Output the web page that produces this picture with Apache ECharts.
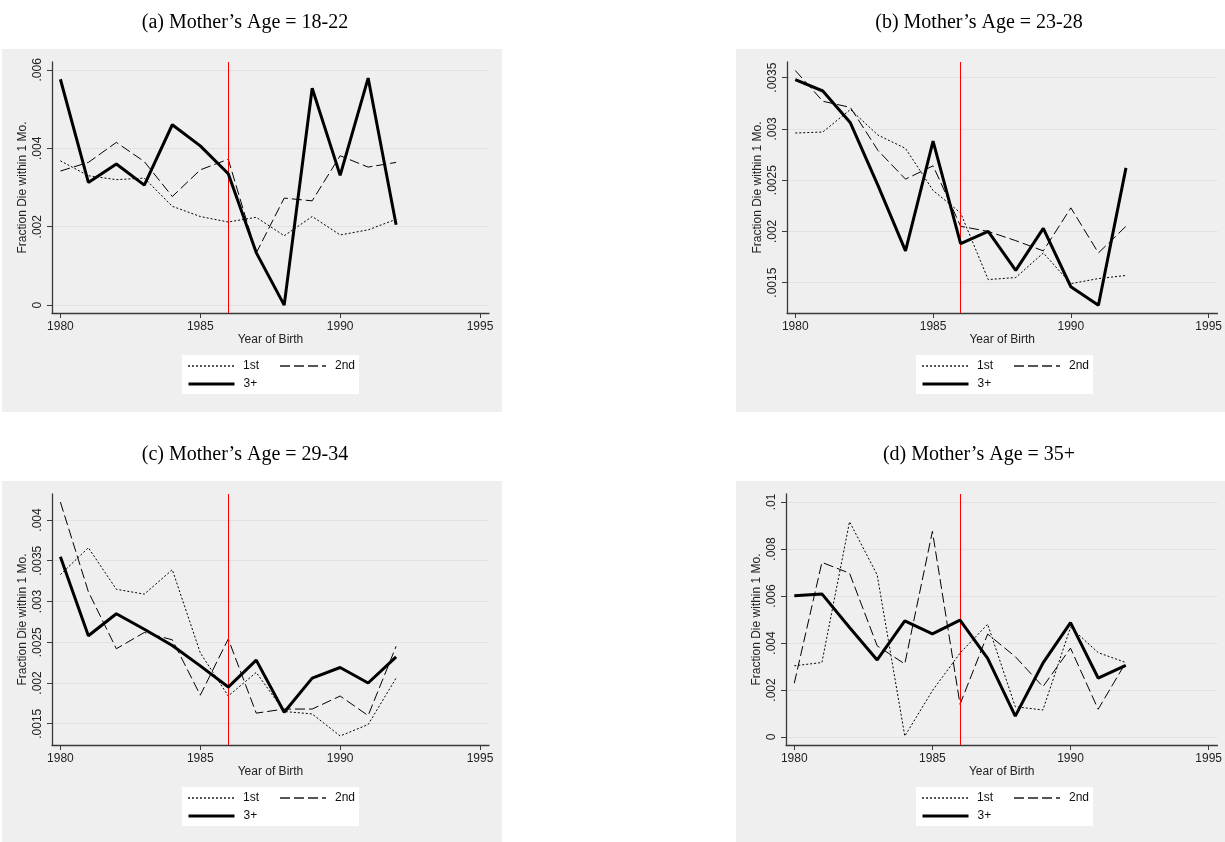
<!DOCTYPE html>
<html>
<head>
<meta charset="utf-8">
<script src="https://cdn.jsdelivr.net/npm/echarts@6/dist/echarts.min.js"></script>
<style>html,body{margin:0;padding:0;background:#fff;}#c{width:1225px;height:842px;}</style>
</head>
<body>
<div id="c"></div>
<script>
// ---- data ----
const years = [1980,1981,1982,1983,1984,1985,1986,1987,1988,1989,1990,1991,1992];
const xTicks = [1980,1985,1990,1995];
const seriesNames = ['1st','2nd','3+'];
const reformYear = 1986;

const titles = ["(a) Mother\u2019s Age = 18-22","(b) Mother\u2019s Age = 23-28","(c) Mother\u2019s Age = 29-34","(d) Mother\u2019s Age = 35+"];

const a_first  = [0.00368,0.00330,0.00320,0.00324,0.00252,0.00226,0.00212,0.00224,0.00177,0.00226,0.00179,0.00192,0.00219];
const a_second = [0.00342,0.00364,0.00415,0.00366,0.00277,0.00345,0.00372,0.00133,0.00273,0.00266,0.00381,0.00352,0.00364];
const a_third  = [0.00576,0.00313,0.00360,0.00306,0.00460,0.00406,0.00335,0.00134,0.00000,0.00553,0.00331,0.00579,0.00205];
const a_yTicks = [0,0.002,0.004,0.006];

const b_first  = [0.00296,0.00297,0.00319,0.00294,0.00281,0.00240,0.00218,0.00153,0.00155,0.00179,0.00149,0.00154,0.00157];
const b_second = [0.00357,0.00327,0.00321,0.00279,0.00251,0.00264,0.00205,0.00200,0.00191,0.00181,0.00223,0.00179,0.00205];
const b_third  = [0.00348,0.00337,0.00306,0.00245,0.00181,0.00288,0.00188,0.00200,0.00162,0.00203,0.00146,0.00128,0.00262];
const b_yTicks = [0.0015,0.002,0.0025,0.003,0.0035];

const c_first  = [0.00333,0.00366,0.00315,0.00309,0.00339,0.00237,0.00184,0.00213,0.00165,0.00162,0.00135,0.00149,0.00206];
const c_second = [0.00422,0.00312,0.00242,0.00262,0.00253,0.00185,0.00254,0.00163,0.00168,0.00168,0.00184,0.00160,0.00245];
const c_third  = [0.00355,0.00258,0.00285,0.00266,0.00246,0.00221,0.00195,0.00228,0.00164,0.00206,0.00219,0.00200,0.00232];
const c_yTicks = [0.0015,0.002,0.0025,0.003,0.0035,0.004];

const d_first  = [0.00303,0.00317,0.00916,0.00690,0.00004,0.00197,0.00357,0.00480,0.00129,0.00115,0.00467,0.00359,0.00317];
const d_second = [0.00229,0.00743,0.00697,0.00388,0.00311,0.00875,0.00139,0.00438,0.00342,0.00214,0.00378,0.00118,0.00317];
const d_third  = [0.00601,0.00609,0.00466,0.00328,0.00494,0.00439,0.00497,0.00335,0.00089,0.00314,0.00487,0.00251,0.00305];
const d_yTicks = [0,0.002,0.004,0.006,0.008,0.01];

// ---- layout ----
const panels = [
  {data:[a_first,a_second,a_third], yTicks:a_yTicks, ymin:-0.0002, ymax:0.0062, gx:52, gy:62, bgx:2, bgy:49, bgw:500, bgh:363, tx:245, ty:23, lx:182, ly:355},
  {data:[b_first,b_second,b_third], yTicks:b_yTicks, ymin:0.001204, ymax:0.003653, gx:787, gy:62, bgx:736, bgy:49, bgw:490, bgh:363, tx:979, ty:23, lx:916, ly:355},
  {data:[c_first,c_second,c_third], yTicks:c_yTicks, ymin:0.001239, ymax:0.004319, gx:52, gy:494, bgx:2, bgy:481, bgw:500, bgh:361, tx:245, ty:455, lx:182, ly:787},
  {data:[d_first,d_second,d_third], yTicks:d_yTicks, ymin:-0.00034, ymax:0.01034, gx:786, gy:494, bgx:736, bgy:481, bgw:490, bgh:361, tx:979, ty:455, lx:916, ly:787}
];
const GW = 437, GH = 251;
const sans = 'Liberation Sans, Arial, Helvetica, sans-serif';
const axisCol = '#3a3a3a';
const styles = [
  {width:1, type:[2,2], color:'#000'},
  {width:1, type:[10,4], color:'#000'},
  {width:3, type:'solid', color:'#000'}
];
const fmt = v => { let s = String(+v.toPrecision(6)); return s.replace(/^0\./,'.'); };

const grid = [], xAxis = [], yAxis = [], series = [], legend = [], graphic = [];
panels.forEach((p, i) => {
  graphic.push({type:'rect', shape:{x:p.bgx, y:p.bgy, width:p.bgw, height:p.bgh}, style:{fill:'#efefef'}, z:-10, silent:true});
  graphic.push({type:'rect', shape:{x:p.lx, y:p.ly, width:177, height:39}, style:{fill:'#ffffff'}, z:-5, silent:true});
  graphic.push({type:'text', x:p.tx, y:p.ty, style:{text:titles[i], font:'20px "Liberation Serif", "Times New Roman", serif', fill:'#000', textAlign:'center', textVerticalAlign:'middle'}, silent:true});
  grid.push({left:p.gx, top:p.gy, width:GW, height:GH, containLabel:false});
  xAxis.push({
    type:'value', gridIndex:i, min:1979.7, max:1995.32,
    name:'Year of Birth', nameLocation:'middle', nameGap:20,
    nameTextStyle:{fontFamily:sans, fontSize:12, color:'#222'},
    axisLine:{show:true, onZero:false, lineStyle:{color:axisCol, width:1.3}},
    axisTick:{show:true, length:5, customValues:xTicks, lineStyle:{color:axisCol}},
    axisLabel:{customValues:xTicks, margin:8, fontFamily:sans, fontSize:12, color:'#222', formatter:v=>String(v)},
    splitLine:{show:false}
  });
  yAxis.push({
    type:'value', gridIndex:i, min:p.ymin, max:p.ymax,
    name:'Fraction Die within 1 Mo.', nameLocation:'middle', nameGap:23, nameRotate:90,
    nameTextStyle:{fontFamily:sans, fontSize:12, color:'#222'},
    axisLine:{show:true, onZero:false, lineStyle:{color:axisCol, width:1.3}},
    axisTick:{show:true, length:5, customValues:p.yTicks, lineStyle:{color:axisCol}},
    axisLabel:{customValues:p.yTicks, rotate:90, margin:8, fontFamily:sans, fontSize:12, color:'#222', formatter:fmt},
    splitLine:{show:true, lineStyle:{color:'#e2e2e2', width:1}}
  });
  p.data.forEach((vals, k) => {
    const s = {
      name:seriesNames[k], type:'line', xAxisIndex:i, yAxisIndex:i,
      data: years.map((y, j) => [y, vals[j]]),
      symbol:'none', showSymbol:false, silent:true, animation:false,
      lineStyle:styles[k], itemStyle:{color:'#000'}, z:3+k
    };
    if (k === 0) {
      s.markLine = {silent:true, symbol:'none', animation:false, label:{show:false},
        lineStyle:{color:'#ff0000', width:1, type:'solid'},
        data:[{xAxis:reformYear}]};
    }
    series.push(s);
  });
  const legCommon = {
    orient:'horizontal', itemWidth:46, itemHeight:10, itemGap:20, padding:0,
    selectedMode:false,
    itemStyle:{opacity:0},
    textStyle:{fontFamily:sans, fontSize:12, color:'#111', padding:[0,0,0,4]}
  };
  legend.push(Object.assign({}, legCommon, {left:p.lx+5, top:p.ly+5, data:['1st','2nd'], lineStyle:{color:'#555'}}));
  legend.push(Object.assign({}, legCommon, {left:p.lx+5, top:p.ly+23, data:['3+'], lineStyle:{width:3, color:'#000'}}));
});

const chart = echarts.init(document.getElementById('c'), null, {renderer:'canvas'});
chart.setOption({backgroundColor:'#ffffff', animation:false, grid, xAxis, yAxis, series, legend, graphic});
</script>
</body>
</html>
